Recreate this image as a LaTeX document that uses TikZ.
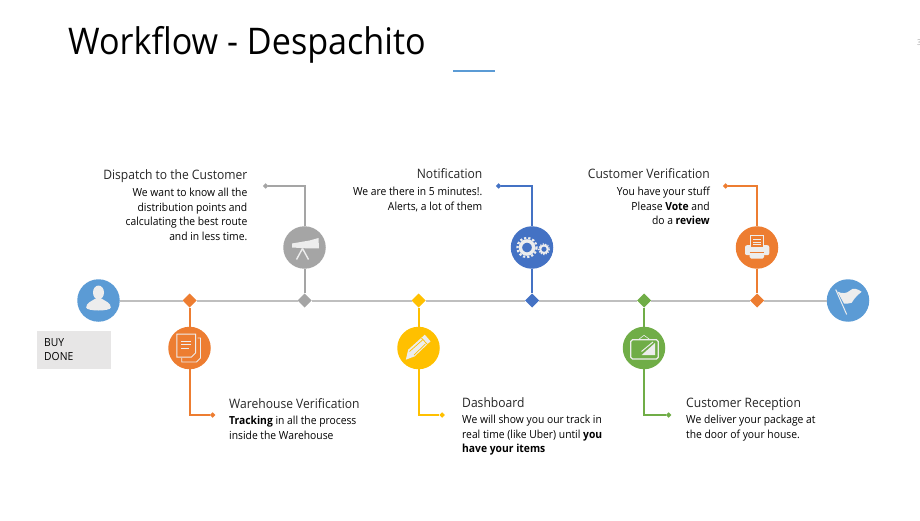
\documentclass[tikz,border=0pt]{standalone}
\usepackage{fontspec}
\setmainfont{Open Sans}[FakeStretch=0.93]
\usetikzlibrary{shapes.geometric}
\definecolor{cblue}{HTML}{5B9BD5}
\definecolor{corange}{HTML}{ED7D31}
\definecolor{cgrey}{HTML}{A5A5A5}
\definecolor{cyellow}{HTML}{FFC000}
\definecolor{cdblue}{HTML}{4472C4}
\definecolor{cgreen}{HTML}{70AD47}
\definecolor{cline}{HTML}{BFBFBF}
\definecolor{cicon}{HTML}{EDEDED}
\definecolor{cbox}{HTML}{E7E6E6}
\definecolor{ctext}{HTML}{262626}
\tikzset{
  x=1pt,y=-1pt,
  disc/.style={circle,fill=#1,draw=none,minimum size=42.5pt,inner sep=0pt,outer sep=0pt},
  mark d/.style={diamond,fill=#1,draw=none,minimum size=14pt,inner sep=0pt,outer sep=0pt},
  tip d/.style={diamond,fill=#1,draw=none,minimum size=5.5pt,inner sep=0pt,outer sep=0pt},
  timeline/.style={draw=cline,line width=2pt},
  link/.style={draw=#1,line width=2pt},
  head l/.style={font=\fontsize{13}{14}\selectfont,text=ctext,inner sep=0pt,anchor=base west},
  head r/.style={font=\fontsize{13}{14}\selectfont,text=ctext,inner sep=0pt,anchor=base east},
  body l/.style={font=\fontsize{11.1}{14.5}\selectfont,text=black,inner sep=0pt,anchor=north west,align=left},
  body r/.style={font=\fontsize{11.1}{14.5}\selectfont,text=black,inner sep=0pt,anchor=north east,align=right},
  ico/.style={fill=cicon,draw=none},
  icol/.style={draw=cicon,line width=1pt,fill=none},
}
\begin{document}
\begin{tikzpicture}
\useasboundingbox (0,0) rectangle (920,521);
% title
\node[inner sep=0pt,anchor=base west,font=\fontsize{36.7}{40}\selectfont] (title) at (68,55) {Workflow - Despachito};
\coordinate (ulA) at (453,71); \coordinate (ulB) at (495,71);
\draw[draw=cblue,line width=1.6pt] (ulA) -- (ulB);
\node[inner sep=0pt,anchor=west,text=cgrey,font=\fontsize{8}{9}\selectfont] (pageno) at (917,43) {3};
% nodes
\node[disc=cblue] (start) at (98.5,300.5) {};
\node[disc=cblue] (finish) at (848,300.5) {};
\node[mark d=corange] (d1) at (189.5,300.5) {};
\node[mark d=cgrey] (d2) at (304.5,300.5) {};
\node[mark d=cyellow] (d3) at (418.5,300.5) {};
\node[mark d=cdblue] (d4) at (532,300.5) {};
\node[mark d=cgreen] (d5) at (644,300.5) {};
\node[mark d=corange] (d6) at (757,300.5) {};
\node[disc=corange] (c1) at (189.5,348) {};
\node[disc=cgrey] (c2) at (304.5,247.5) {};
\node[disc=cyellow] (c3) at (418.5,348) {};
\node[disc=cdblue] (c4) at (532,247.5) {};
\node[disc=cgreen] (c5) at (644,348) {};
\node[disc=corange] (c6) at (757,247.5) {};
\node[tip d=corange] (e1) at (212.5,415) {};
\node[tip d=cgrey] (e2) at (265.5,186) {};
\node[tip d=cyellow] (e3) at (442,415) {};
\node[tip d=cdblue] (e4) at (498.5,186) {};
\node[tip d=cgreen] (e5) at (668.5,415) {};
\node[tip d=corange] (e6) at (725.5,186) {};
% connectors
\draw[timeline] (start) -- (d1);
\draw[timeline] (d1) -- (d2);
\draw[timeline] (d2) -- (d3);
\draw[timeline] (d3) -- (d4);
\draw[timeline] (d4) -- (d5);
\draw[timeline] (d5) -- (d6);
\draw[timeline] (d6) -- (finish);
\draw[link=corange] (d1) -- (c1);
\draw[link=cgrey] (d2) -- (c2);
\draw[link=cyellow] (d3) -- (c3);
\draw[link=cdblue] (d4) -- (c4);
\draw[link=cgreen] (d5) -- (c5);
\draw[link=corange] (d6) -- (c6);
\draw[link=corange] (c1) |- (e1);
\draw[link=cgrey] (c2) |- (e2);
\draw[link=cyellow] (c3) |- (e3);
\draw[link=cdblue] (c4) |- (e4);
\draw[link=cgreen] (c5) |- (e5);
\draw[link=corange] (c6) |- (e6);
% box
\node[fill=cbox,minimum width=74pt,minimum height=38pt,inner sep=0pt,anchor=north west] (buy) at (37,331) {};
\node[body l] (buytext) at (44,338) {BUY\\DONE};
% texts
\node[head r] (h2) at (247.5,180) {Dispatch to the Customer};
\node[body r] (b2) at (247.5,188) {We want to know all the\\distribution points and\\calculating the best route\\and in less time.};
\node[head r] (h4) at (482.5,179) {Notification};
\node[body r] (b4) at (482.5,187) {We are there in 5 minutes!.\\Alerts, a lot of them};
\node[head r] (h6) at (710,179) {Customer Verification};
\node[body r] (b6) at (710,187) {You have your stuff\\Please \textbf{Vote} and\\do a \textbf{review}};
\node[head l] (h1) at (229,408) {Warehouse Verification};
\node[body l] (b1) at (229,416) {\textbf{Tracking} in all the process\\inside the Warehouse};
\node[head l] (h3) at (462,407) {Dashboard};
\node[body l] (b3) at (462,415) {We will show you our track in\\real time (like Uber) until \textbf{you}\\\textbf{have your items}};
\node[head l] (h5) at (686,407) {Customer Reception};
\node[body l] (b5) at (686,415) {We deliver your package at\\the door of your house.};
% icon: person
\begin{scope}[shift={(start.center)}]
  \fill[ico] (0,-8) ellipse (5.5 and 7);
  \fill[ico] (-12.3,7) .. controls (-12.3,2) and (-7,1) .. (-3,-2) -- (3,-2) .. controls (7,1) and (12.3,2) .. (12.3,7) .. controls (12.3,11) and (-12.3,11) .. (-12.3,7) -- cycle;
\end{scope}
% icon: documents
\begin{scope}[shift={(c1.center)}]
  \draw[icol,line width=.8pt] (8,-10) -- (11,-10) -- (11,10) -- (7,14) -- (-7.7,14) -- (-7.7,10);
  \draw[icol] (-12.7,-14) -- (6,-14) -- (6,5) -- (2,9) -- (-12.7,9) -- cycle;
  \draw[icol,line width=.8pt] (-8.3,-6.7) -- (1.7,-6.7) (-8.3,-3.3) -- (1.7,-3.3) (-8.3,.7) -- (-1,.7);
\end{scope}
% icon: telescope
\begin{scope}[shift={(c2.center)}]
  \fill[ico] (-12.5,-4) -- (5,-7) -- (14,-9.5) -- (14.5,1) -- (5,1) -- (-12.5,0) -- cycle;
  \draw[icol,line width=1.4pt] (-2,1) -- (-8,12) (-2,1) -- (4,12);
\end{scope}
% icon: pencil
\begin{scope}[shift={(c3.center)}]
  \fill[ico] (-12.7,11.7) -- (-10.3,1.7) -- (6.3,-13.3) -- (12,-6.7) -- (-3.7,8.3) -- cycle;
  \draw[cyellow,line width=.7pt] (3,-10) -- (9,-3.5) (-9,3.5) -- (4,-8) (-4.5,7) -- (7,-4);
\end{scope}
% icon: gears
\begin{scope}[shift={(c4.center)}]
  \draw[cicon,line width=3.4pt] (-5,0) circle (6.6);
  \draw[cicon,line width=2.2pt,dash pattern=on 2.2pt off 2pt] (-5,0) circle (9.6);
  \draw[cicon,line width=2pt] (12,1.7) circle (3.8);
  \draw[cicon,line width=1.2pt,dash pattern=on 1.3pt off 1.3pt] (12,1.7) circle (5.4);
\end{scope}
% icon: tablet
\begin{scope}[shift={(c5.center)}]
  \draw[icol,line width=1.3pt,rounded corners=1.8pt] (-13.3,-8.3) rectangle (14.3,11);
  \fill[ico] (-2.3,7) -- (11,-5) -- (11,7) -- cycle;
  \draw[icol] (-2.5,3.5) -- (9,-6);
  \draw[icol,line width=.6pt] (-5.7,-8.3) -- (0,-12.7) -- (6,-8.3);
\end{scope}
% icon: printer
\begin{scope}[shift={(c6.center)}]
  \fill[ico,rounded corners=2pt] (-12,-2.3) rectangle (12.3,7.7);
  \fill[ico,rounded corners=1.5pt] (-7.3,5.3) rectangle (7,11);
  \draw[corange,line width=.7pt] (-7.3,5.3) -- (7,5.3);
  \draw[draw=cicon,fill=corange,line width=.8pt] (-6.7,-12) rectangle (6.7,0);
  \draw[cicon,line width=.7pt] (-4,-8) -- (4,-8) (-4,-5.5) -- (4,-5.5) (-4,-3) -- (4,-3);
\end{scope}
% icon: flag
\begin{scope}[shift={(finish.center)}]
  \draw[icol,line width=1pt] (-12.3,-11) -- (-1.3,14);
  \fill[ico] (-10.7,-9) .. controls (-6,-6.5) and (-1,-7) .. (2,-10) .. controls (5,-13) and (9,-12) .. (13.7,-8.7) .. controls (10,-6) and (6,-2) .. (3.7,2.3) .. controls (1,3.5) and (-2,3) .. (-4,3) -- cycle;
\end{scope}
\end{tikzpicture}
\end{document}
